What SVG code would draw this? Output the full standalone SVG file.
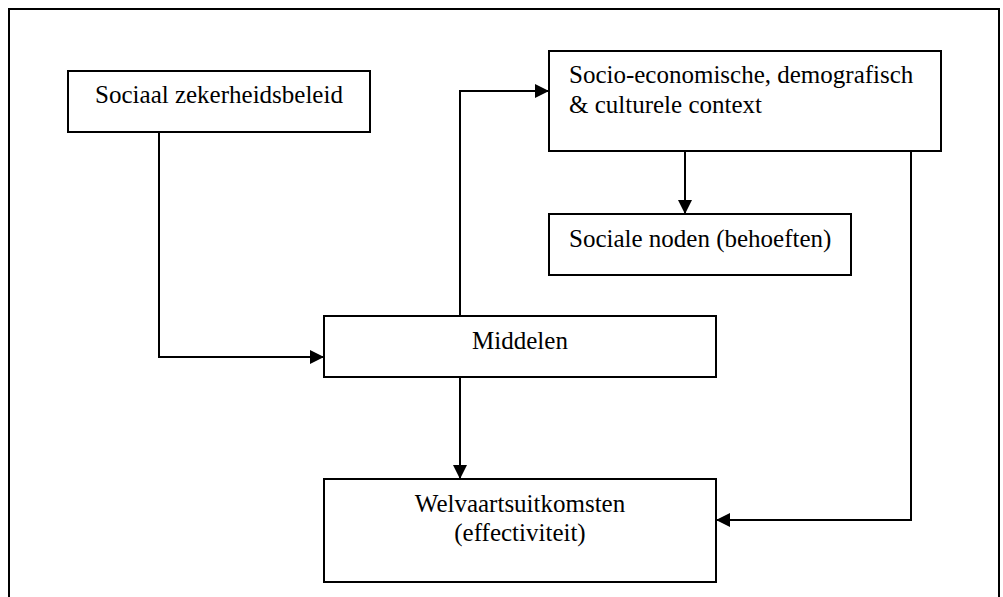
<svg xmlns="http://www.w3.org/2000/svg" width="1003" height="597" viewBox="0 0 1003 597">
<style>
.box{fill:#fff;stroke:#000;stroke-width:2}
.t{font-family:"Times New Roman",Tinos,"Nimbus Roman","Nimbus Roman No9 L",Times,FreeSerif,"Liberation Serif","DejaVu Serif",serif;font-size:25px;fill:#000}
.c{text-anchor:middle}
.conn{fill:none;stroke:#000;stroke-width:2}
</style>
<defs>
<marker id="arr" markerUnits="userSpaceOnUse" markerWidth="14" markerHeight="14" viewBox="0 0 14 14" refX="14" refY="7" orient="auto">
<path d="M0,0 L14,7 L0,14 Z" fill="#000"/>
</marker>
</defs>
<rect x="9" y="9" width="990" height="600" fill="#fff" stroke="#000" stroke-width="2"/>
<g id="connectors">
<path class="conn" d="M159,132 V357 H324" marker-end="url(#arr)"/>
<path class="conn" d="M460,316 V91 H549" marker-end="url(#arr)"/>
<path class="conn" d="M685,151 V214" marker-end="url(#arr)"/>
<path class="conn" d="M460,377 V479" marker-end="url(#arr)"/>
<path class="conn" d="M911,151 V520 H716" marker-end="url(#arr)"/>
</g>
<g id="node-beleid">
<rect class="box" x="68" y="71" width="302" height="61"/>
<text class="t c" x="219" y="103">Sociaal zekerheidsbeleid</text>
</g>
<g id="node-context">
<rect class="box" x="549" y="51" width="392" height="100"/>
<text class="t" x="569" y="83">Socio-economische, demografisch</text>
<text class="t" x="569" y="113">&amp; culturele context</text>
</g>
<g id="node-noden">
<rect class="box" x="549" y="214" width="302" height="61"/>
<text class="t" x="569" y="247">Sociale noden (behoeften)</text>
</g>
<g id="node-middelen">
<rect class="box" x="324" y="316" width="392" height="61"/>
<text class="t c" x="520" y="349">Middelen</text>
</g>
<g id="node-welvaart">
<rect class="box" x="324" y="479" width="392" height="103"/>
<text class="t c" x="520" y="512">Welvaartsuitkomsten</text>
<text class="t c" x="520" y="541">(effectiviteit)</text>
</g>
</svg>
